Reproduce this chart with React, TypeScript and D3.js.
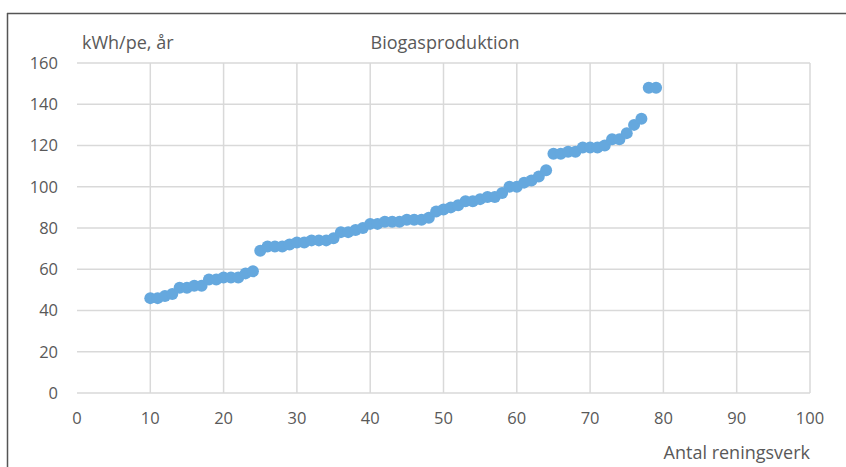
import React from "react";
import * as d3 from "d3";

const xValues: number[] = Array.from({ length: 70 }, (_, i) => i + 10);
const yValues: number[] = [
  46, 46, 47, 48, 51, 51, 52, 52, 55, 55,
  56, 56, 56, 58, 59, 69, 71, 71, 71, 72,
  73, 73, 74, 74, 74, 75, 78, 78, 79, 80,
  82, 82, 83, 83, 83, 84, 84, 84, 85, 88,
  89, 90, 91, 93, 93, 94, 95, 95, 97, 100,
  100, 102, 103, 105, 108, 116, 116, 117, 117, 119,
  119, 119, 120, 123, 123, 126, 130, 133, 148, 148,
];
const xTicks: number[] = [0, 10, 20, 30, 40, 50, 60, 70, 80, 90, 100];
const yTicks: number[] = [0, 20, 40, 60, 80, 100, 120, 140, 160];
const title = "Biogasproduktion";
const yLabel = "kWh/pe, år";
const xLabel = "Antal reningsverk";

export default function App() {
  const W = 846, H = 467;
  const x = d3.scaleLinear().domain([0, 100]).range([77, 810]);
  const y = d3.scaleLinear().domain([0, 160]).range([393, 63]);
  const font = "'Open Sans', sans-serif";
  const txt = "#595959";
  return (
    <svg width={W} height={H} style={{ position: "absolute", left: 0, top: 0, background: "#fff" }}>
      <rect x={0} y={0} width={W} height={H} fill="#fff" />
      <line x1={7.5} x2={7.5} y1={13} y2={H} stroke="#555" strokeWidth={1.5} />
      <line x1={7} x2={W} y1={13.5} y2={13.5} stroke="#555" strokeWidth={1.5} />
      {yTicks.map((t) => (
        <line key={"gy" + t} x1={x(0)} x2={x(100)} y1={y(t)} y2={y(t)} stroke="#d9d9d9" strokeWidth={1.5} />
      ))}
      {xTicks.filter((t) => t > 0).map((t) => (
        <line key={"gx" + t} x1={x(t)} x2={x(t)} y1={y(0)} y2={y(160)} stroke="#d9d9d9" strokeWidth={1.5} />
      ))}
      {yTicks.map((t) => (
        <text key={"ty" + t} x={58} y={y(t)} dy="0.35em" textAnchor="end" fontFamily={font} fontSize={16.5} fill={txt}>
          {t}
        </text>
      ))}
      {xTicks.map((t) => (
        <text key={"tx" + t} x={x(t)} y={424} textAnchor="middle" fontFamily={font} fontSize={16.5} fill={txt}>
          {t}
        </text>
      ))}
      <text x={82} y={49} fontFamily={font} fontSize={18} fill={txt}>{yLabel}</text>
      <text x={445} y={49} textAnchor="middle" fontFamily={font} fontSize={18} fill={txt}>{title}</text>
      <text x={810} y={459} textAnchor="end" fontFamily={font} fontSize={18} fill={txt}>{xLabel}</text>
      {xValues.map((xv, i) => (
        <circle key={"p" + i} cx={x(xv)} cy={y(yValues[i])} r={6} fill="#65a8de" />
      ))}
    </svg>
  );
}
